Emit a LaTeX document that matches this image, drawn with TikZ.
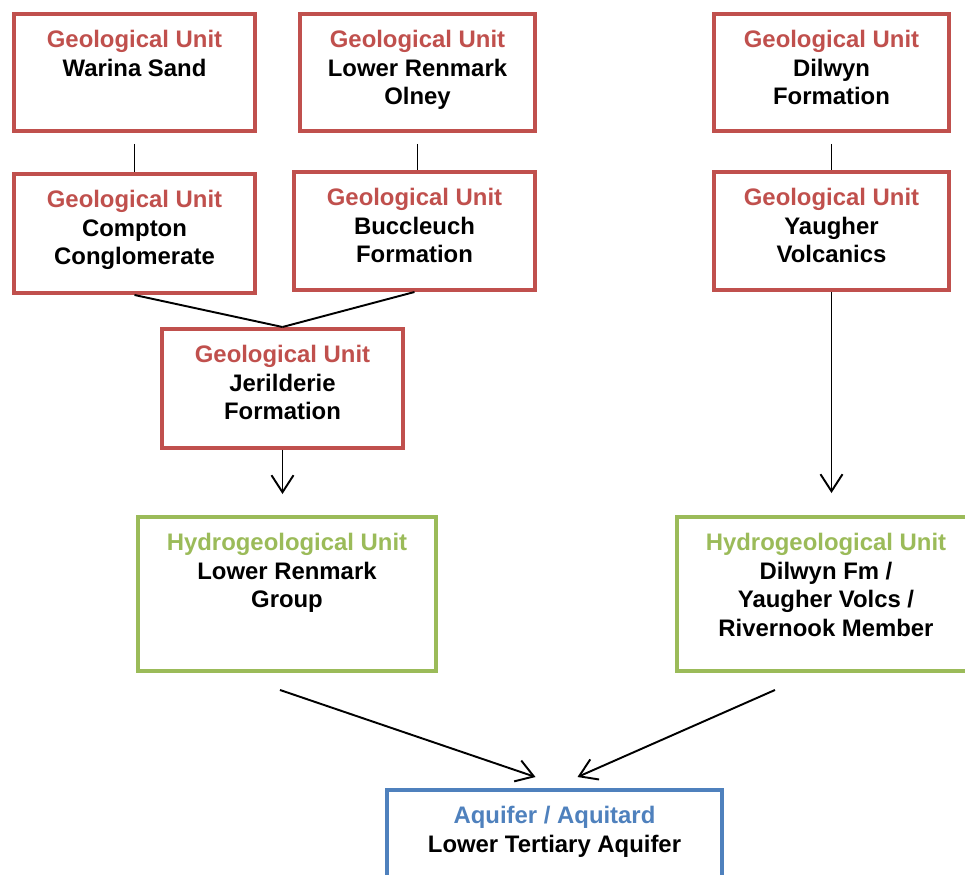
\documentclass[tikz,border=0pt]{standalone}
\usepackage{fontspec}
\setmainfont{Liberation Sans}
\usetikzlibrary{arrows.meta,calc}
\definecolor{geoRed}{RGB}{192,80,77}
\definecolor{hydroGreen}{RGB}{155,187,89}
\definecolor{aquiBlue}{RGB}{79,129,189}

\begin{document}
\begin{tikzpicture}[x=0.02cm, y=-0.02cm, >={Straight Barb[length=0.34cm,width=0.44cm]},
  unit/.style={draw=#1, line width=0.08cm, fill=white, inner sep=0pt},
  head/.style={anchor=north, yshift=-0.26cm, align=center, inner sep=3pt,
    font=\bfseries\fontsize{13.6pt}{16.2pt}\selectfont},
  link/.style={line width=1.1pt}]
\useasboundingbox (0,0) rectangle (965,875);

\node[unit=geoRed, minimum width=4.82cm, minimum height=2.34cm] (warina) at (134.5,72.5) {};
\node[head] (warina-t) at (warina.north) {\textcolor{geoRed}{Geological Unit}\\Warina Sand};
\node[unit=geoRed, minimum width=4.70cm, minimum height=2.34cm] (olney) at (417.5,72.5) {};
\node[head] (olney-t) at (olney.north) {\textcolor{geoRed}{Geological Unit}\\Lower Renmark\\Olney};
\node[unit=geoRed, minimum width=4.82cm, minimum height=2.38cm] (compton) at (134.5,233.5) {};
\node[head] (compton-t) at (compton.north) {\textcolor{geoRed}{Geological Unit}\\Compton\\Conglomerate};
\node[unit=geoRed, minimum width=4.82cm, minimum height=2.36cm] (buccleuch) at (414.5,231) {};
\node[head] (buccleuch-t) at (buccleuch.north) {\textcolor{geoRed}{Geological Unit}\\Buccleuch\\Formation};
\node[unit=geoRed, minimum width=4.82cm, minimum height=2.38cm] (jerilderie) at (282.5,388.5) {};
\node[head] (jerilderie-t) at (jerilderie.north) {\textcolor{geoRed}{Geological Unit}\\Jerilderie\\Formation};
\node[unit=geoRed, minimum width=4.70cm, minimum height=2.34cm] (dilwyn) at (831.5,72.5) {};
\node[head] (dilwyn-t) at (dilwyn.north) {\textcolor{geoRed}{Geological Unit}\\Dilwyn\\Formation};
\node[unit=geoRed, minimum width=4.70cm, minimum height=2.36cm] (yaugher) at (831.5,231) {};
\node[head] (yaugher-t) at (yaugher.north) {\textcolor{geoRed}{Geological Unit}\\Yaugher\\Volcanics};

\node[unit=hydroGreen, minimum width=5.96cm, minimum height=3.08cm] (lrgroup) at (287,594) {};
\node[head] (lrgroup-t) at (lrgroup.north) {\textcolor{hydroGreen}{Hydrogeological Unit}\\Lower Renmark\\Group};
\node[unit=hydroGreen, minimum width=5.96cm, minimum height=3.08cm] (dilyau) at (826,594) {};
\node[head] (dilyau-t) at (dilyau.north) {\textcolor{hydroGreen}{Hydrogeological Unit}\\Dilwyn Fm /\\Yaugher Volcs /\\Rivernook Member};

\node[unit=aquiBlue, minimum width=6.70cm, minimum height=2.32cm] (lta) at (554.5,848) {};
\node[head] (lta-t) at (lta.north) {\textcolor{aquiBlue}{Aquifer / Aquitard}\\Lower Tertiary Aquifer};

\coordinate (lrgroup-out) at ($(lrgroup.south)+(-7,17)$);
\coordinate (dilyau-out) at ($(dilyau.south)+(-51,17)$);
\coordinate (lta-inL) at ($(lta.north)+(-19,-11)$);
\coordinate (lta-inR) at ($(lta.north)+(23,-11)$);

\draw[link, shorten <=0.22cm] (warina.south) -- (compton.north);
\draw[link, shorten <=0.22cm] (olney.south) -- (olney.south |- buccleuch.north);
\draw[link, shorten <=0.22cm] (dilwyn.south) -- (yaugher.north);
\draw[link] (compton.south) -- (jerilderie.north);
\draw[link] (buccleuch.south) -- (jerilderie.north);
\draw[link, ->, shorten >=0.42cm] (jerilderie.south) -- (jerilderie.south |- lrgroup.north);
\draw[link, ->, shorten >=0.44cm] (yaugher.south) -- (yaugher.south |- dilyau.north);
\draw[link, ->] (lrgroup-out) -- (lta-inL);
\draw[link, ->] (dilyau-out) -- (lta-inR);
\end{tikzpicture}
\end{document}
